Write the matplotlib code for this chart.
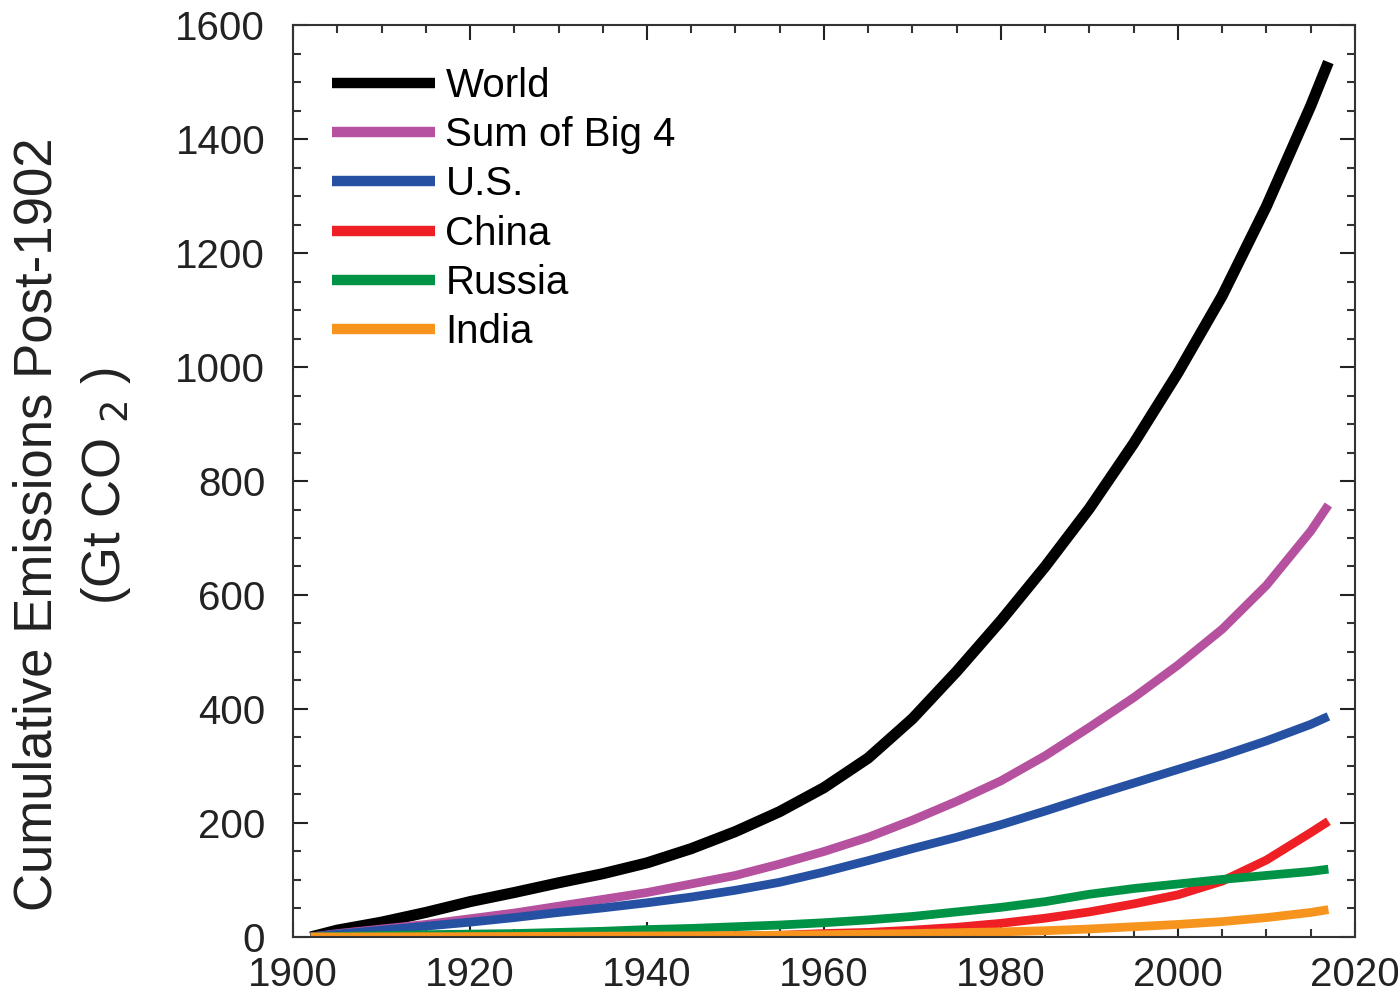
import numpy as np
import matplotlib
matplotlib.use("Agg")
import matplotlib.pyplot as plt
from matplotlib.ticker import MultipleLocator

plt.rcParams['font.family'] = ['Liberation Sans', 'DejaVu Sans']

# Cumulative CO2 emissions since 1902 (Gt CO2)
years = [1902, 1905, 1910, 1915, 1920, 1925, 1930, 1935, 1940, 1945, 1950,
         1955, 1960, 1965, 1970, 1975, 1980, 1985, 1990, 1995, 2000, 2005,
         2010, 2015, 2017]
world = [0, 12, 26, 43, 62, 78, 95, 111, 130, 155, 185, 220, 262, 314, 383,
         466, 555, 650, 752, 866, 990, 1125, 1282, 1458, 1535]
big4 = [0, 6, 14, 22, 32, 42, 54, 66, 78, 93, 108, 128, 150, 175, 205, 238,
        274, 318, 368, 420, 477, 540, 617, 712, 758]
us = [0, 5, 12, 19, 26, 34, 43, 51, 60, 70, 82, 96, 114, 134, 155, 175, 197,
      221, 246, 270, 294, 318, 344, 373, 387]
china = [0, 0.1, 0.2, 0.3, 0.5, 0.6, 0.8, 1.0, 1.3, 1.6, 2, 3, 6, 8, 12, 17,
         24, 33, 44, 58, 74, 98, 135, 183, 203]
russia = [0, 1, 2.5, 4, 5, 6, 8, 10, 13, 15, 18, 21, 25, 30, 36, 44, 52, 62,
          75, 85, 93, 101, 108, 115, 119]
india = [0, 0.1, 0.3, 0.5, 0.7, 0.9, 1.2, 1.5, 1.8, 2.1, 2.5, 3, 4, 5, 6,
         7.5, 9, 11, 14, 18, 22, 27, 34, 43, 48]

series = [
    ("World", world, "black", 8.0),
    ("Sum of Big 4", big4, "#B5519E", 6.3),
    ("U.S.", us, "#2651A3", 6.3),
    ("China", china, "#EE2026", 6.3),
    ("Russia", russia, "#009345", 6.3),
    ("India", india, "#F7941D", 6.3),
]

fig = plt.figure(figsize=(13.98, 9.97), dpi=100)
ax = fig.add_axes([0.2096, 0.0602, 0.7596, 0.9147])

for name, vals, col, lw in series:
    ax.plot(years, vals, color=col, lw=lw, label=name,
            solid_capstyle="butt", solid_joinstyle="round")

ax.set_xlim(1900, 2020)
ax.set_ylim(0, 1600)
ax.xaxis.set_major_locator(MultipleLocator(20))
ax.xaxis.set_minor_locator(MultipleLocator(5))
ax.yaxis.set_major_locator(MultipleLocator(200))
ax.yaxis.set_minor_locator(MultipleLocator(50))

ax.tick_params(which="both", direction="in", top=True, right=True,
               color="#333333", width=1.5)
ax.tick_params(which="major", length=11, labelsize=29, colors="#222222")
ax.tick_params(which="minor", length=6)
ax.tick_params(axis="y", which="major", pad=20)
ax.tick_params(axis="x", which="major", pad=14)
for sp in ax.spines.values():
    sp.set_linewidth(1.5)
    sp.set_color("#333333")

leg = ax.legend(loc="upper left", frameon=False, fontsize=29,
                handlelength=2.55, handletextpad=0.27, labelspacing=0.28,
                bbox_to_anchor=(0.01, 0.985), borderaxespad=0.3)
for line in leg.get_lines():
    line.set_linewidth(7.5)
    line.set_solid_capstyle("butt")

fig.text(0.027, 0.474, "Cumulative Emissions Post-1902", rotation=90,
         ha="center", va="center", fontsize=38, color="#222222")
fig.text(0.076, 0.513, "(Gt CO $_2$ )", rotation=90,
         ha="center", va="center", fontsize=38, color="#222222")

fig.savefig("out.png", dpi=100)
